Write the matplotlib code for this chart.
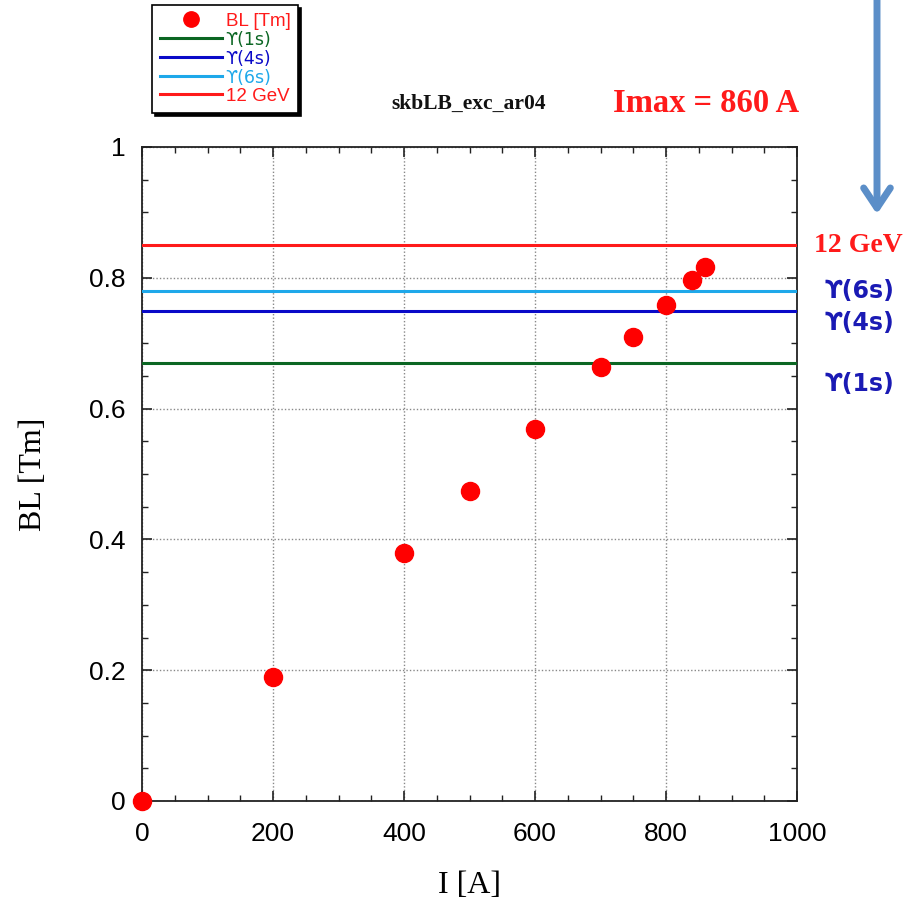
import matplotlib
matplotlib.use("Agg")
import matplotlib.pyplot as plt
from matplotlib.ticker import MultipleLocator
from matplotlib.patches import FancyArrowPatch

# ---- data ----
current_A = [0, 200, 400, 500, 600, 700, 750, 800, 840, 860]
bl_Tm = [0.0, 0.189, 0.379, 0.474, 0.569, 0.663, 0.710, 0.758, 0.796, 0.816]

ref_labels = ["\u03d2(1s)", "\u03d2(4s)", "\u03d2(6s)", "12 GeV"]
ref_values = [0.67, 0.75, 0.78, 0.85]
ref_colors = ["#0b6623", "#0a0ac8", "#1ea8ea", "#ff1a1a"]

x_ticks = [0, 200, 400, 600, 800, 1000]
y_ticks = [0, 0.2, 0.4, 0.6, 0.8, 1]

W, H = 906, 899
fig = plt.figure(figsize=(W / 100, H / 100), dpi=100)
ax = fig.add_axes([142 / W, 1 - 801 / H, (797 - 142) / W, (801 - 147) / H])

sans = ["Liberation Sans", "DejaVu Sans"]
serif = "Liberation Serif"

pts, = ax.plot(current_A, bl_Tm, "o", color="#ff0000", markersize=13,
               linestyle="none", label="BL [Tm]", clip_on=False, zorder=5)
handles = [pts]
for lab, v, c in zip(ref_labels, ref_values, ref_colors):
    h = ax.axhline(v, color=c, lw=2.2, label=lab, zorder=3)
    handles.append(h)

ax.set_xlim(0, 1000)
ax.set_ylim(0, 1)
ax.set_xticks(x_ticks)
ax.set_yticks(y_ticks)
ax.set_xticklabels([str(t) for t in x_ticks])
ax.set_yticklabels(["0", "0.2", "0.4", "0.6", "0.8", "1"])
ax.xaxis.set_minor_locator(MultipleLocator(50))
ax.yaxis.set_minor_locator(MultipleLocator(0.05))
ax.tick_params(which="both", direction="in", top=True, right=True, color="#222222")
ax.tick_params(which="major", length=7, width=1.2, labelsize=19)
ax.tick_params(axis="x", which="major", pad=15)
ax.tick_params(axis="y", which="major", pad=12)
ax.tick_params(which="minor", length=4, width=1.0)
for lab in ax.get_xticklabels() + ax.get_yticklabels():
    lab.set_fontfamily(sans)
ax.grid(True, which="major", linestyle=(0, (1, 1.5)), color="#888888", lw=1.0)
for s in ax.spines.values():
    s.set_linewidth(1.3)
    s.set_color("#222222")

ax.set_xlabel("I [A]", fontfamily=serif, fontsize=23, labelpad=18)
ax.set_ylabel("BL [Tm]", fontfamily=serif, fontsize=23, labelpad=29)

# titles
fig.text(469 / W, 1 - 104 / H, "skbLB_exc_ar04", fontfamily=serif, fontweight="bold",
         fontsize=15.5, ha="center", va="center", color="#111111")
fig.text(706 / W, 1 - 104 / H, "Imax = 860 A", fontfamily=serif, fontweight="bold",
         fontsize=23.5, ha="center", va="center", color="#ff1a1a")

# right-side labels
fig.text(858 / W, 1 - 245 / H, "12 GeV", fontfamily=serif, fontweight="bold",
         fontsize=20, ha="center", va="center", color="#ff1a1a")
for txt, yp in [("\u03d2(6s)", 291), ("\u03d2(4s)", 323), ("\u03d2(1s)", 384)]:
    fig.text(859 / W, 1 - yp / H, txt, fontfamily="DejaVu Sans", fontweight="bold",
             fontsize=17, ha="center", va="center", color="#1a1ab4")

# arrow
arr = FancyArrowPatch((877 / W, 1.01), (877 / W, 1 - 217 / H), transform=fig.transFigure,
                      arrowstyle="->,head_length=0.9,head_width=0.6", lw=5,
                      color="#5b8ec8", mutation_scale=16, capstyle="round",
                      joinstyle="round")
fig.patches.append(arr)

# legend
leg = ax.legend(handles=handles, loc="upper left",
                bbox_to_anchor=(152 / W, 1 - 5 / H), bbox_transform=fig.transFigure,
                frameon=True, fancybox=False, shadow={"color": "black", "alpha": 1},
                prop={"family": ["Liberation Sans", "DejaVu Sans"], "size": 13.5},
                labelcolor="linecolor",
                handlelength=3.3, handletextpad=0.2, labelspacing=0.05,
                borderpad=0.42, markerscale=0.85, borderaxespad=0)
leg.get_frame().set_edgecolor("black")
leg.get_frame().set_linewidth(1.2)
leg.get_texts()[0].set_color("#ff1a1a")
for t in leg.get_texts()[1:4]:
    t.set_fontfamily("DejaVu Sans")
    t.set_fontsize(12.5)

fig.savefig("out.png", dpi=100)
